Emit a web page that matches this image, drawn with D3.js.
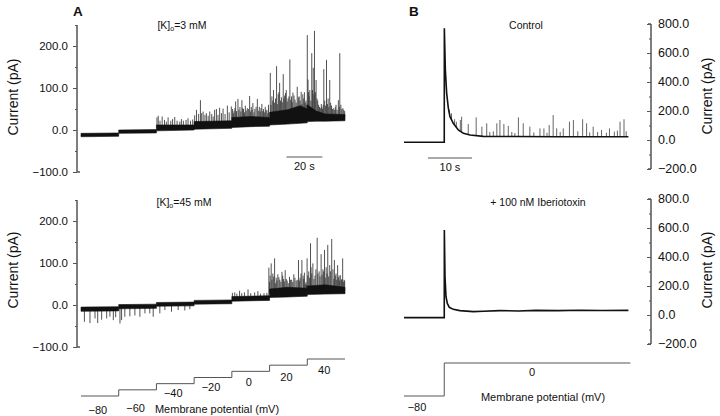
<!DOCTYPE html>
<html><head><meta charset="utf-8">
<script src="https://cdn.jsdelivr.net/npm/d3@7"></script>
<style>
body{margin:0;background:#fff;}
text{font-family:"Liberation Sans",Arial,sans-serif;fill:#111;}
</style></head>
<body><svg id="c" width="720" height="416"></svg>
<script>
// ---------------- DATA ----------------
// Panel A: voltage steps (mV) and their start times (s)
const stepVoltagesA = [-80, -60, -40, -20, 0, 20, 40];
const stepStartsA = [0, 21, 42, 63, 84, 105, 126];
const stepEndA = 147;
// Current envelope [time s, low pA, high pA] for [K]o = 3 mM
const env3 = [
  [0,-16,-8],[21,-15,-7],
  [21,-8,0],[42,-7,1],
  [42,-2,12],[63,0,12],
  [63,2,20],[84,4,22],
  [84,6,30],[95,8,32],[105,9,30],
  [105,12,42],[115,14,48],[122,16,58],[126,17,50],
  [126,20,60],[131,21,45],[136,21,38],[147,22,37]
];
// openings (time s, peak pA) for 3 mM
const spikes3 = [
  [42.3,30],[43,34],[44,22],[45.2,32],[46.5,24],[47.5,20],[48.5,30],[50,22],[51,26],[52.2,31],[53.5,22],[55,20],[55.9,26],[57,22],[58.5,24],[59.6,28],[61,22],[62.2,25],
  [63.3,35],[64.3,48],[65.5,38],[66.5,71],[67.2,40],[68,44],[69,36],[69.8,40],[70.8,34],[71.7,44],[72.8,38],[73.6,32],[74.4,48],[75.4,50],[76.3,36],[77.2,53],[78.2,40],[79.1,51],[80.2,38],[81.5,58],[82.5,42],[83.7,56],
  [84.4,50],[85.2,45],[86.1,68],[87.4,74],[88.5,55],[89.6,71],[90.5,50],[91.5,58],[92.6,52],[93.9,81],[94.8,55],[95.7,64],[96.8,50],[98.2,74],[99.3,55],[100.7,62],[101.6,50],[102.6,55],[103.5,48],[104.4,60],
  [84.8,40],[85.7,52],[86.6,45],[87.9,48],[89,44],[90,52],[91,42],[92,46],[93.2,50],[94.3,44],[95.2,48],[96.3,42],[97.5,55],[98.7,46],[99.8,44],[100.2,52],[101.2,45],[102.1,42],[103,46],[104,40],
  [105.4,136],[106.3,80],[107.2,95],[108.9,152],[109.8,85],[110.6,112],[111.6,78],[112.6,133],[113.4,82],[114.3,95],[115.3,75],[116.3,168],[117.2,80],[118,89],[119.2,72],[120.4,103],[121.5,80],[122.6,91],[123.5,85],[124.4,90],[125.3,70],
  [105.8,60],[106.8,70],[107.7,65],[108.3,75],[109.3,62],[110.2,90],[111.1,70],[112.1,66],[113,75],[113.9,88],[114.8,68],[115.8,80],[116.8,72],[117.6,66],[118.6,82],[119.8,65],[121,78],[122,70],[123,62],[124,75],[124.9,65],[125.7,60],
  [126,226],[126.7,90],[127.4,95],[128.5,183],[129.3,148],[130,236],[130.9,119],[131.8,70],[132.8,55],[133.8,62],[134.5,50],[135.2,145],[136.7,167],[137.6,75],[138.5,119],[139.5,58],[140.5,52],[141.2,48],[142,60],[143.3,71],[144.1,183],[145.2,50],[146.3,48],
  [126.4,120],[127,80],[128,70],[128.9,95],[129.7,85],[130.5,90],[131.4,75],[132.3,60],[133.3,52],[134.1,55],[134.9,60],[135.7,70],[136.2,58],[137.2,62],[138,55],[139,65],[140,50],[141.6,55],[142.6,48],[143.8,55],[144.7,60],[145.8,52],[146.8,45]
];
// Current envelope for [K]o = 45 mM
const env45 = [
  [0,-15,-5],[21,-14,-4],
  [21,-9,1],[42,-8,2],
  [42,-3,6],[63,-2,7],
  [63,2,11],[84,3,12],
  [84,9,20],[105,11,22],
  [105,18,38],[115,19,42],[126,21,40],
  [126,25,45],[136,26,48],[147,27,42]
];
const spikes45 = [
  [1.9,-40],[5,-43],[7.8,-32],[9.3,-43],[11.5,-35],[14.3,-32],[16.1,-28],[18,-36],[19.3,-29],
  [21.7,-44],[22.6,-36],[24.4,-28],[27.2,-27],[30,-25],[32.8,-28],[35.6,-20],[38.3,-20],[40.2,-28],
  [43.9,-20],[46.7,-12],[50.4,-16],[54.1,-12],[57.8,-13],[60.6,-10],
  [84.3,29],[85.6,30],[86.8,27],[88.3,34],[89.5,28],[91,30],[93,37],[94.5,28],[96.7,30],[98.5,33],[100,27],[101.9,28],[103.5,29],
  [104.6,89],[105.3,70],[105.9,99],[106.8,75],[107.8,111],[108.7,65],[109.6,73],[110.7,60],[111.9,79],[112.8,62],[113.7,83],[114.8,58],[116.1,67],[117.3,60],[118.5,73],[119.8,58],[121.1,107],[122,65],[123,107],[123.7,70],[124.4,77],[125.3,55],
  [105,55],[106.3,60],[107.3,68],[108.2,52],[109.1,58],[110.2,66],[111.3,55],[112.3,70],[113.2,56],[114.3,62],[115.4,52],[116.7,60],[117.9,55],[119.1,65],[120.4,60],[121.6,58],[122.5,75],[124,62],[124.9,50],[125.6,48],
  [125.9,111],[126.8,80],[127.8,147],[128.5,75],[129.1,99],[130.3,70],[131.5,160],[132.6,80],[133.7,121],[134.7,85],[135.6,131],[136.5,90],[137.4,143],[138.5,95],[139.6,157],[140.3,85],[141.1,107],[142,75],[142.9,95],[143.7,70],[144.4,71],[145,60],[145.7,111],[146.5,60],
  [126.3,70],[127.3,65],[128.1,90],[129.7,62],[130.8,85],[131.9,75],[133.1,68],[134.2,72],[135.1,80],[136,65],[137,75],[137.9,68],[139,80],[140.8,62],[141.6,70],[142.4,60],[143.3,66],[144,58],[145.3,62],[146.1,55],[146.8,58]
];
// Panel B: step -80 -> 0 mV
const stepVoltagesB = [-80, 0];
const stepStartsB = [0, 9.15];
const stepEndB = 51;
const ctrlBase = [[0,-16],[9.15,-16],[9.17,770],[9.4,483],[9.7,322],[10.08,219],[10.45,161],[11.2,115],[12.35,69],[13.5,46],[15,34],[18,25],[25,24],[35,22],[45,22],[51,22]];
const ctrlSpikes = [
  [10.3,207],[10.8,184],[11.5,143],[11.9,126],[12.8,138],[13.1,161],[14.6,110],[16.4,156],[17.7,92],[18.8,115],[19.5,55],[20.3,60],[21.1,115],[21.8,138],[22.7,110],[23.7,97],[24.5,55],[25.2,48],[26,156],[27.1,115],[28.6,92],[29.5,52],[30.9,80],[31.8,80],[32.5,50],[33,103],[33.9,172],[34.7,80],[35.5,55],[36.2,80],[37.6,126],[38.5,138],[39.5,60],[40.6,143],[41.5,115],[42.2,52],[43,92],[44,55],[44.9,69],[46,50],[46.7,80],[47.8,58],[48.5,65],[49.1,126],[50,143],[50.5,60]
];
const ibtxBase = [[0,-18],[9.15,-18],[9.17,586],[9.32,264],[9.55,126],[9.85,80],[10.3,53],[11.2,39],[12.7,30],[15.75,23],[18,26],[21.8,30],[26,28],[30,32],[35,30],[40,33],[45,31],[51,32]];
// Axis ticks
const ticksA = [-100, 0, 100, 200];
const minorA = [-100, -50, 0, 50, 100, 150, 200, 250];
const ticksB = [-200, 0, 200, 400, 600, 800];
const minorB = [-200,-100,0,100,200,300,400,500,600,700,800];
// Texts
const titles = {A:"A", B:"B"};
const condA = ["3", "45"];
const condB = ["Control", "+ 100 nM Iberiotoxin"];
const yTitle = "Current (pA)";
const xTitle = "Membrane potential (mV)";
const scaleBarA = 20, scaleBarB = 10;

// ---------------- SCALES ----------------
const svg = d3.select("#c");
const fmt = d3.format(".1f");
const minus = s => s.replace("-", "\u2212");
const tA = d3.scaleLinear().domain([0, stepEndA]).range([81, 345]);
const yA1 = d3.scaleLinear().domain([-100, 250]).range([172, 25]);
const yA2 = d3.scaleLinear().domain([-100, 250]).range([347, 200]);
const tB = d3.scaleLinear().domain([0, stepEndB]).range([404, 628.4]);
const yB1 = d3.scaleLinear().domain([-200, 800]).range([169, 24]);
const yB2 = d3.scaleLinear().domain([-200, 800]).range([344, 199]);
const vA = d3.scaleLinear().domain([-80, 40]).range([396, 359]);
const vB = d3.scaleLinear().domain([-80, 0]).range([396, 363]);

// ---------------- AXES ----------------
function axisLeftA(y, x0){
  const g = svg.append("g").attr("transform", `translate(${x0},0)`);
  const ax = d3.axisLeft(y).tickValues(ticksA).tickSize(4).tickPadding(5).tickFormat(d => minus(fmt(d)));
  g.call(ax);
  g.append("g").call(d3.axisLeft(y).tickValues(minorA).tickSize(2).tickFormat(""));
  g.selectAll(".domain").attr("d", `M0,${y(250)}V${y(-100)}H3`);
  g.selectAll("path,line").attr("stroke", "#555");
  g.selectAll("text").style("font-size", "11.5px").attr("fill", "#111");
  return g;
}
function axisRightB(y, x0){
  const g = svg.append("g").attr("transform", `translate(${x0},0)`);
  g.call(d3.axisLeft(y).tickValues(ticksB).tickSize(4).tickFormat(""));
  g.append("g").call(d3.axisLeft(y).tickValues(minorB).tickSize(2).tickFormat(""));
  g.selectAll(".domain").attr("d", `M-3,${y(800)}H0V${y(-200)}H-3`);
  g.selectAll("path,line").attr("stroke", "#555");
  g.selectAll(".lbl").data(ticksB).enter().append("text").attr("class","lbl")
    .attr("x", 7).attr("y", d => y(d)).attr("dy", "0.35em").attr("text-anchor", "start")
    .style("font-size", "12.5px").text(d => minus(fmt(d)));
}
axisLeftA(yA1, 77);
axisLeftA(yA2, 77);
axisRightB(yB1, 651);
axisRightB(yB2, 651);

// y titles
[[13, 97], [13, 270], [707, 96], [707, 270]].forEach(p => svg.append("text")
  .attr("transform", `translate(${p[0]},${p[1]}) rotate(-90)`).attr("text-anchor","middle")
  .attr("dy","0.35em").style("font-size","14px").text(yTitle));

// panel letters
svg.append("text").attr("x", 73).attr("y", 16).style("font-size","13.5px").style("font-weight","bold").text(titles.A);
svg.append("text").attr("x", 409).attr("y", 16).style("font-size","13.5px").style("font-weight","bold").text(titles.B);

// condition labels
function kLabel(x, y, c){
  const t = svg.append("text").attr("x", x).attr("y", y).attr("text-anchor","middle").style("font-size","10.5px");
  t.append("tspan").text("[K]");
  t.append("tspan").attr("dy", 2).style("font-size","7px").text("o");
  t.append("tspan").attr("dy", -2).text("=" + c + " mM");
}
kLabel(182, 29, condA[0]);
kLabel(184, 206, condA[1]);
svg.append("text").attr("x", 526).attr("y", 29).attr("text-anchor","middle").style("font-size","10.5px").text(condB[0]);
svg.append("text").attr("x", 538).attr("y", 206).attr("text-anchor","middle").style("font-size","10.5px").text(condB[1]);

// ---------------- TRACES ----------------
function baseAt(env, t){
  let i = env.findIndex(d => d[0] > t);
  if (i <= 0) i = env.length - 1;
  const a = env[i-1], b = env[i];
  const f = b[0] === a[0] ? 0 : (t - a[0]) / (b[0] - a[0]);
  return ((a[1] + a[2]) / 2) * (1 - f) + ((b[1] + b[2]) / 2) * f;
}
function drawEnv(env, spikes, x, y){
  const g = svg.append("g");
  g.selectAll("line.sp").data(spikes).enter().append("line")
    .attr("x1", d => x(d[0])).attr("x2", d => x(d[0]))
    .attr("y1", d => y(baseAt(env, d[0]))).attr("y2", d => y(d[1]))
    .attr("stroke", "#333").attr("stroke-width", 0.85);
  const area = d3.area().x(d => x(d[0])).y0(d => y(d[1])).y1(d => y(d[2]));
  g.append("path").attr("d", area(env)).attr("fill", "#111").attr("stroke", "#111").attr("stroke-width", 0.6);
}
drawEnv(env3, spikes3, tA, yA1);
drawEnv(env45, spikes45, tA, yA2);

function drawLine(base, spikes, x, y){
  const g = svg.append("g");
  const interp = t => {
    let i = base.findIndex(d => d[0] > t);
    if (i <= 0) i = base.length - 1;
    const a = base[i-1], b = base[i];
    return a[1] + (b[1] - a[1]) * (t - a[0]) / (b[0] - a[0]);
  };
  g.selectAll("line").data(spikes).enter().append("line")
    .attr("x1", d => x(d[0])).attr("x2", d => x(d[0]))
    .attr("y1", d => y(interp(d[0]))).attr("y2", d => y(d[1]))
    .attr("stroke", "#555").attr("stroke-width", 0.9);
  g.append("path").attr("d", d3.line().x(d => x(d[0])).y(d => y(d[1]))(base))
    .attr("fill","none").attr("stroke","#111").attr("stroke-width", 1.6);
}
drawLine(ctrlBase, ctrlSpikes, tB, yB1);
drawLine(ibtxBase, [], tB, yB2);

// scale bars
svg.append("line").attr("x1", tA(114.4)).attr("x2", tA(114.4 + scaleBarA)).attr("y1", 157).attr("y2", 157).attr("stroke","#555");
svg.append("text").attr("x", (tA(114.4) + tA(114.4 + scaleBarA)) / 2).attr("y", 170).attr("text-anchor","middle").style("font-size","11px").text(scaleBarA + " s");
svg.append("line").attr("x1", tB(5.45)).attr("x2", tB(5.45 + scaleBarB)).attr("y1", 158).attr("y2", 158).attr("stroke","#555");
svg.append("text").attr("x", (tB(5.45) + tB(5.45 + scaleBarB)) / 2).attr("y", 171).attr("text-anchor","middle").style("font-size","11px").text(scaleBarB + " s");

// ---------------- VOLTAGE PROTOCOLS ----------------
const stepLine = d3.line().curve(d3.curveStepAfter);
const protoA = stepVoltagesA.map((v, i) => [tA(stepStartsA[i]), vA(v)]).concat([[tA(stepEndA), vA(stepVoltagesA[6])]]);
svg.append("path").attr("d", stepLine(protoA)).attr("fill","none").attr("stroke","#555").attr("stroke-width",1);
const labDyA = [14, 18, 9, 10, 11, 12, 11];
stepVoltagesA.forEach((v, i) => {
  const xm = (tA(stepStartsA[i]) + tA(i < 6 ? stepStartsA[i+1] : stepEndA)) / 2 - 2;
  svg.append("text").attr("x", xm).attr("y", vA(v) + labDyA[i]).attr("dy","0.35em").attr("text-anchor","middle")
    .style("font-size","11px").text(minus(String(v)));
});
svg.append("text").attr("x", 217).attr("y", 413).attr("text-anchor","middle").style("font-size","11px").text(xTitle);

const protoB = stepVoltagesB.map((v, i) => [tB(stepStartsB[i]), vB(v)]).concat([[tB(stepEndB) + 2, vB(0)]]);
svg.append("path").attr("d", stepLine(protoB)).attr("fill","none").attr("stroke","#555").attr("stroke-width",1);
svg.append("text").attr("x", 417).attr("y", 411).attr("text-anchor","middle").style("font-size","11px").text(minus(String(stepVoltagesB[0])));
svg.append("text").attr("x", 532).attr("y", 376).attr("text-anchor","middle").style("font-size","11px").text(String(stepVoltagesB[1]));
svg.append("text").attr("x", 543).attr("y", 401).attr("text-anchor","middle").style("font-size","11px").text(xTitle);
</script></body></html>
